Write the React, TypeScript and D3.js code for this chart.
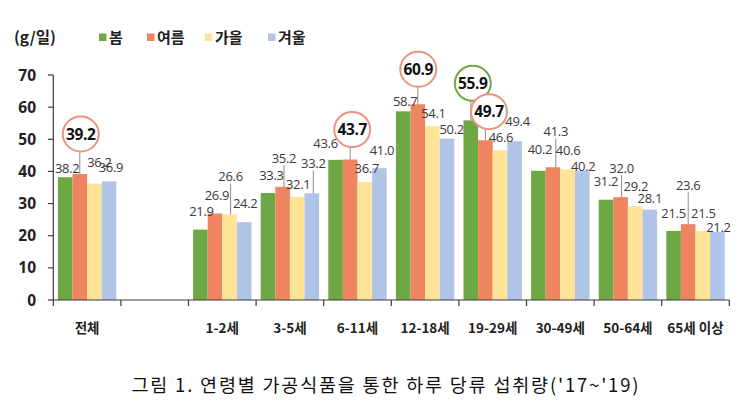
import React from "react";
import * as d3 from "d3";

// ---------- data ----------
const categories = ["전체", " ", "1-2세", "3-5세", "6-11세", "12-18세", "19-29세", "30-49세", "50-64세", "65세 이상"];
const seasons = ["봄", "여름", "가을", "겨울"];
const spring = [38.2, null, 21.9, 33.3, 43.6, 58.7, 55.9, 40.2, 31.2, 21.5];
const summer = [39.2, null, 26.9, 35.2, 43.7, 60.9, 49.7, 41.3, 32.0, 23.6];
const autumn = [36.2, null, 26.6, 32.1, 36.7, 54.1, 46.6, 40.6, 29.2, 21.5];
const winter = [36.9, null, 24.2, 33.2, 41.0, 50.2, 49.4, 40.2, 28.1, 21.2];
const yTicks = [0, 10, 20, 30, 40, 50, 60, 70];
const yTitle = "(g/일)";
const caption = "그림 1. 연령별 가공식품을 통한 하루 당류 섭취량('17~'19)";
// circled values: [seasonIndex, categoryIndex]
const circled = [[1, 0], [1, 4], [1, 5], [0, 6], [1, 6]];

// ---------- styling / layout ----------
const colors = ["#6EA845", "#EE8460", "#FFE497", "#AFC4E6"];
const ringColors = ["#6EA845", "#E99580", "#E99580", "#E99580"];
// label offsets [dx, dy above bar top, leader line 0/1], per season per category
const labelOffsets = [
  [[2, 9, 0], null, [1, 18, 0], [3.5, 18, 0], [-10, 16.5, 0], [2, 9.6, 0], [2, 37, 0], [1.6, 21, 0], [0, 18, 0], [0, 18, 0]],
  [[1, 40, 1], null, [2, 18.5, 0], [1.4, 28.6, 1], [2, 30, 1], [0.5, 35, 1], [3.6, 28.6, 1], [2.8, 35.6, 1], [1, 29, 1], [0, 39, 1]],
  [[5, 21.6, 0], null, [1, 38, 1], [1, 12.5, 0], [2, 14, 0], [1, 13, 0], [1, 13, 0], [0.5, 19.5, 0], [0.6, 19.4, 0], [0.5, 18, 0]],
  [[2, 14, 0], null, [1, 19, 0], [1.5, 30, 1], [2.6, 18, 0], [4.7, 9.4, 0], [3, 20, 0], [1, 4, 0], [0, 11.4, 0], [1, 5, 0]],
];
const legendX = [99, 147, 205, 268];
const FONT = "'Open Sans', 'Noto Sans CJK KR', sans-serif";
const KFONT = "'Noto Sans CJK KR', 'Open Sans', sans-serif";

export default function App() {
  const W = 747, H = 419;
  const series = [spring, summer, autumn, winter];
  const x = d3.scaleBand<string>().domain(categories).range([53.3, 729.3]).paddingInner(0).paddingOuter(0);
  const xs = d3.scaleBand<string>().domain(seasons).range([0, x.bandwidth()]).paddingInner(0).paddingOuter(0.315);
  const y = d3.scaleLinear().domain([0, 70]).range([300, 75]);
  const axisColor = "#3a3a3a";
  const labelColor = "#3a3a3a";

  const isCircled = (s: number, c: number) => circled.some(([a, b]) => a === s && b === c);

  const bars: any[] = [];
  const labels: any[] = [];
  const lines: any[] = [];
  const rings: any[] = [];

  series.forEach((vals, s) => {
    vals.forEach((v, c) => {
      if (v == null) return;
      const bx = (x(categories[c]) as number) + (xs(seasons[s]) as number);
      const bw = xs.bandwidth();
      const top = y(v);
      bars.push(<rect key={`b${s}-${c}`} x={bx} y={top} width={bw} height={y(0) - top} fill={colors[s]} />);
      const off = labelOffsets[s][c] as number[];
      const cx = bx + bw / 2 + off[0];
      const cy = top - off[1];
      const txt = v.toFixed(1);
      if (isCircled(s, c)) {
        const rx = 18, ry = 17.5;
        lines.push(<line key={`l${s}-${c}`} x1={bx + bw / 2} x2={bx + bw / 2} y1={cy + ry} y2={top} stroke="#8a8a8a" strokeWidth={1} />);
        rings.push(
          <g key={`r${s}-${c}`}>
            <ellipse cx={cx} cy={cy} rx={rx} ry={ry} fill="#fff" stroke={ringColors[s]} strokeWidth={2} />
            <text x={cx} y={cy + 5.5} textAnchor="middle" fontFamily={FONT} fontWeight={700} fontSize={15.5} letterSpacing={-0.4} fill="#111">{txt}</text>
          </g>
        );
      } else {
        if (off[2]) {
          lines.push(<line key={`l${s}-${c}`} x1={cx} x2={cx} y1={cy + 7} y2={top} stroke="#8a8a8a" strokeWidth={1} />);
        }
        labels.push(
          <text key={`t${s}-${c}`} x={cx} y={cy + 4.7} textAnchor="middle" fontFamily={FONT} fontSize={13} letterSpacing={-0.3} fill={labelColor}>{txt}</text>
        );
      }
    });
  });

  const boundaries = [...categories.map((c) => x(c) as number), x.range()[1]];

  return (
    <svg width={W} height={H} style={{ position: "absolute", left: 0, top: 0, background: "#fff" }}>
      <rect width={W} height={H} fill="#fff" />
      {/* y title */}
      <text x={14} y={42.5} fontFamily={KFONT} fontWeight={700} fontSize={15.5} fill="#222">{yTitle}</text>
      {/* legend */}
      {seasons.map((s, i) => (
        <g key={s}>
          <rect x={legendX[i]} y={33.5} width={7.5} height={7.5} fill={colors[i]} />
          <text x={legendX[i] + 10} y={42.5} fontFamily={KFONT} fontWeight={700} fontSize={15} fill="#222">{s}</text>
        </g>
      ))}
      {/* y axis */}
      <line x1={53.3} x2={53.3} y1={y(70)} y2={y(0)} stroke={axisColor} strokeWidth={1.2} />
      {yTicks.map((t) => (
        <g key={t}>
          <line x1={48} x2={53.3} y1={y(t)} y2={y(t)} stroke={axisColor} strokeWidth={1.2} />
          <text x={36} y={y(t) + 5.5} textAnchor="end" fontFamily={FONT} fontWeight={700} fontSize={15.5} fill="#222">{t}</text>
        </g>
      ))}
      {bars}
      {/* x axis */}
      <line x1={53.3} x2={x.range()[1]} y1={y(0)} y2={y(0)} stroke={axisColor} strokeWidth={1.2} />
      {boundaries.map((b, i) => (
        <line key={i} x1={b} x2={b} y1={y(0)} y2={y(0) + 6} stroke={axisColor} strokeWidth={1.2} />
      ))}
      {categories.map((c) => (
        <text key={c} x={(x(c) as number) + x.bandwidth() / 2} y={333} textAnchor="middle" fontFamily={KFONT} fontWeight={700} fontSize={13.5} fill="#222">{c.trim()}</text>
      ))}
      {lines}
      {labels}
      {rings}
      <text x={385} y={391.5} textAnchor="middle" fontFamily={KFONT} fontSize={18.5} textLength={507} lengthAdjust="spacing" fill="#111">{caption}</text>
    </svg>
  );
}
